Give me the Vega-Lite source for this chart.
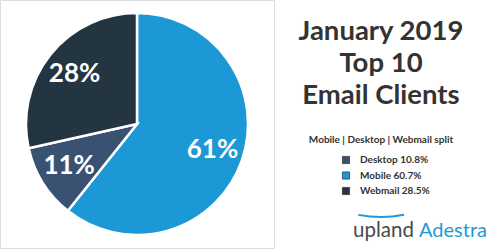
{
  "$schema": "https://vega.github.io/schema/vega-lite/v6.json",
  "width": 274,
  "height": 248,
  "autosize": "none",
  "padding": {"left": 0, "top": 0, "right": 226, "bottom": 2},
  "background": "white",
  "title": {
    "text": ["January 2019", "Top 10", "Email Clients"],
    "subtitle": "Mobile | Desktop | Webmail split",
    "anchor": "middle",
    "frame": "group",
    "orient": "top",
    "dx": 244,
    "dy": 149,
    "font": "Lato",
    "fontSize": 27.5,
    "fontWeight": "bold",
    "lineHeight": 32,
    "color": "#333333",
    "subtitleFont": "Lato",
    "subtitleFontSize": 10,
    "subtitleFontWeight": "bold",
    "subtitleColor": "#333333",
    "subtitlePadding": 26
  },
  "data": {
    "values": [
      {"client": "Mobile", "share": 60.7, "pct": "61%", "label": "Mobile 60.7%", "rank": 1},
      {"client": "Desktop", "share": 10.8, "pct": "11%", "label": "Desktop 10.8%", "rank": 2},
      {"client": "Webmail", "share": 28.5, "pct": "28%", "label": "Webmail 28.5%", "rank": 3}
    ]
  },
  "layer": [
    {
      "mark": {"type": "arc", "outerRadius": 111, "stroke": "white", "strokeWidth": 2.5},
      "encoding": {
        "theta": {"field": "share", "type": "quantitative", "stack": true},
        "order": {"field": "rank", "type": "quantitative"},
        "color": {
          "field": "label",
          "type": "nominal",
          "scale": {
            "domain": ["Desktop 10.8%", "Mobile 60.7%", "Webmail 28.5%"],
            "range": ["#3a5272", "#1b98d5", "#233540"]
          },
          "legend": {
            "title": null,
            "orient": "none",
            "legendX": 341,
            "legendY": 155,
            "symbolType": "square",
            "symbolSize": 52,
            "symbolStrokeColor": "#222",
            "symbolStrokeWidth": 0.6,
            "labelFont": "Lato",
            "labelFontSize": 10,
            "labelFontWeight": "bold",
            "labelColor": "#333333",
            "labelOffset": 9,
            "rowPadding": 5.5
          }
        }
      }
    },
    {
      "mark": {"type": "text", "radius": 80, "font": "Lato", "fontSize": 26, "fontWeight": "bold", "color": "white"},
      "encoding": {
        "theta": {"field": "share", "type": "quantitative", "stack": true},
        "order": {"field": "rank", "type": "quantitative"},
        "text": {"field": "pct", "type": "nominal"}
      }
    },
    {
      "data": {"values": [{"brand": "upland"}]},
      "mark": {"type": "text", "align": "left", "baseline": "alphabetic", "font": "Lato", "fontSize": 20.5, "color": "#4a4a4a"},
      "encoding": {
        "x": {"value": 353},
        "y": {"value": 237},
        "text": {"field": "brand", "type": "nominal"}
      }
    },
    {
      "data": {"values": [{"brand": "Adestra"}]},
      "mark": {"type": "text", "align": "left", "baseline": "alphabetic", "font": "Lato", "fontSize": 20, "color": "#1e9ad6"},
      "encoding": {
        "x": {"value": 419},
        "y": {"value": 237},
        "text": {"field": "brand", "type": "nominal"}
      }
    },
    {
      "data": {"values": [{"brand": "swoosh"}]},
      "mark": {"type": "arc", "innerRadius": 120, "outerRadius": 122, "theta": 2.95, "theta2": 3.33, "color": "#1e9ad6"},
      "encoding": {
        "x": {"value": 381},
        "y": {"value": 96}
      }
    }
  ]
}
